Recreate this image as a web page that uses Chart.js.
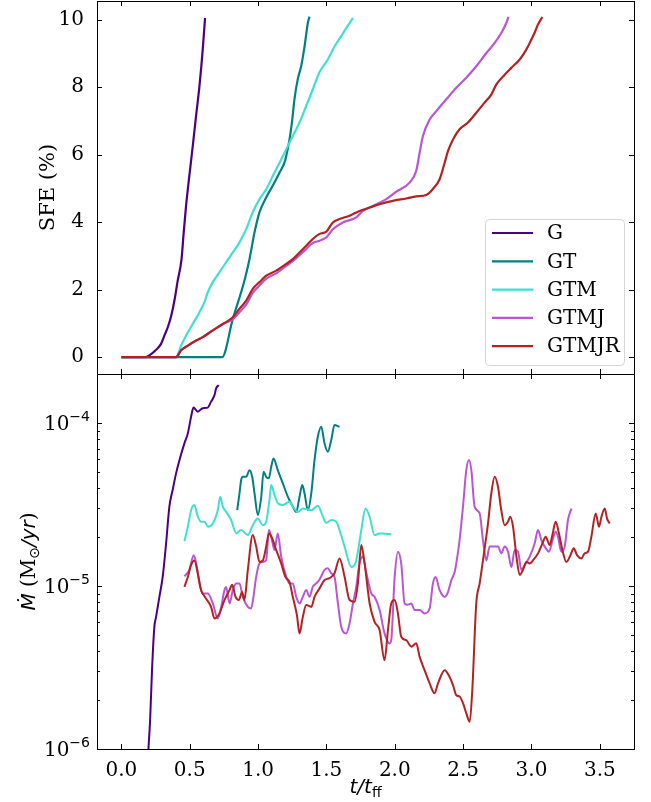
<!DOCTYPE html>
<html>
<head>
<meta charset="utf-8">
<script src="https://cdn.jsdelivr.net/npm/chart.js@4.4.1/dist/chart.umd.min.js"></script>
<style>
  html, body { margin: 0; padding: 0; background: #fff; }
  #wrap { position: relative; width: 651px; height: 802px; }
  #wrap canvas { position: absolute; left: 0; top: 0; }
</style>
</head>
<body>
<div id="wrap">
  <canvas id="sfe" width="651" height="802"></canvas>
  <canvas id="mdot" width="651" height="802"></canvas>
</div>
<script>
// run names and colours
const runs = ['G', 'GT', 'GTM', 'GTMJ', 'GTMJR'];
const colors = ['#4b0082', '#008080', '#40e0d0', '#ba55d3', '#b22222'];

// axis ticks
const xTicks = [0, 0.5, 1, 1.5, 2, 2.5, 3, 3.5];
const sfeTicks = [0, 2, 4, 6, 8, 10];
const mdotTicks = [1e-6, 1e-5, 1e-4];

// star formation efficiency (%) against t/t_ff
const sfeT_G = [0, 0.17, 0.205, 0.25, 0.29, 0.315, 0.34, 0.365, 0.39, 0.41, 0.44, 0.456, 0.473, 0.497, 0.522, 0.546, 0.571, 0.595, 0.612];
const sfe_G = [0, 0, 0.05, 0.2, 0.39, 0.64, 0.89, 1.23, 1.72, 2.22, 2.9, 3.7, 4.48, 5.37, 6.25, 7.14, 8.03, 9.11, 10.05];

const sfeT_GT = [0, 0.737, 0.815, 0.9, 0.937, 0.974, 1.01, 1.059, 1.12, 1.157, 1.193, 1.206, 1.23, 1.25, 1.266, 1.29, 1.315, 1.34, 1.364, 1.376];
const sfe_GT = [0, 0, 1.13, 2.26, 2.9, 3.7, 4.29, 4.73, 5.17, 5.47, 5.76, 5.96, 6.45, 7.04, 7.64, 8.23, 8.62, 9.21, 9.9, 10.09];

const sfeT_GTM = [0, 0.4, 0.437, 0.473, 0.522, 0.571, 0.608, 0.632, 0.669, 0.717, 0.766, 0.815, 0.864, 0.913, 0.961, 1.01, 1.059, 1.108, 1.157, 1.206, 1.254, 1.303, 1.352, 1.4, 1.45, 1.51, 1.56, 1.6, 1.645, 1.694];
const sfe_GTM = [0, 0, 0.34, 0.64, 0.98, 1.33, 1.63, 1.92, 2.22, 2.51, 2.81, 3.1, 3.4, 3.79, 4.29, 4.68, 4.97, 5.37, 5.76, 6.16, 6.55, 6.95, 7.44, 7.93, 8.45, 8.82, 9.21, 9.46, 9.75, 10.05];

const sfeT_GTMJ = [0, 0.4, 0.437, 0.486, 0.547, 0.595, 0.669, 0.742, 0.815, 0.864, 0.913, 0.961, 1.01, 1.059, 1.132, 1.206, 1.254, 1.303, 1.352, 1.4, 1.45, 1.5, 1.547, 1.62, 1.718, 1.767, 1.84, 1.938, 2.011, 2.108, 2.157, 2.182, 2.206, 2.255, 2.304, 2.377, 2.45, 2.523, 2.596, 2.67, 2.731, 2.78, 2.816, 2.831];
const sfe_GTMJ = [0, 0, 0.2, 0.34, 0.49, 0.59, 0.79, 0.98, 1.12, 1.33, 1.55, 1.9, 2.12, 2.32, 2.48, 2.7, 2.84, 3.02, 3.2, 3.38, 3.45, 3.55, 3.79, 3.99, 4.14, 4.33, 4.48, 4.68, 4.9, 5.17, 5.52, 6.06, 6.55, 7.04, 7.29, 7.64, 7.98, 8.28, 8.62, 9.01, 9.31, 9.61, 9.9, 10.08];

const sfeT_GTMJR = [0, 0.4, 0.437, 0.486, 0.547, 0.595, 0.669, 0.742, 0.815, 0.864, 0.913, 0.961, 1.01, 1.059, 1.132, 1.206, 1.254, 1.303, 1.352, 1.4, 1.45, 1.5, 1.547, 1.596, 1.669, 1.742, 1.816, 1.889, 1.986, 2.084, 2.157, 2.23, 2.279, 2.328, 2.365, 2.389, 2.426, 2.474, 2.535, 2.596, 2.657, 2.706, 2.743, 2.804, 2.852, 2.914, 2.962, 2.999, 3.023, 3.048, 3.08];
const sfe_GTMJR = [0, 0, 0.2, 0.34, 0.49, 0.59, 0.79, 0.98, 1.18, 1.43, 1.67, 2.02, 2.22, 2.41, 2.56, 2.76, 2.9, 3.1, 3.3, 3.5, 3.65, 3.72, 3.99, 4.09, 4.19, 4.33, 4.43, 4.53, 4.63, 4.7, 4.76, 4.8, 4.98, 5.27, 5.76, 6.1, 6.45, 6.75, 6.95, 7.24, 7.54, 7.78, 8.08, 8.37, 8.57, 8.82, 9.11, 9.41, 9.61, 9.86, 10.08];

// accretion rate (Msun/yr) against t/t_ff
const mdotT_G = [0.19, 0.198, 0.21, 0.224, 0.241, 0.254, 0.278, 0.302, 0.327, 0.351, 0.375, 0.4, 0.425, 0.461, 0.486, 0.51, 0.527, 0.559, 0.595, 0.632, 0.656, 0.681, 0.693, 0.712];
const mdot_G = [7e-7, 1.0e-6, 1.5e-6, 3.05e-6, 5.6e-6, 6.5e-6, 8.6e-6, 1.14e-5, 1.83e-5, 3.08e-5, 3.9e-5, 4.93e-5, 5.96e-5, 7.54e-5, 8.68e-5, 1.1e-4, 1.25e-4, 1.18e-4, 1.24e-4, 1.25e-4, 1.36e-4, 1.49e-4, 1.64e-4, 1.72e-4];

const mdotT_GT = [0.847, 0.864, 0.876, 0.888, 0.913, 0.937, 0.957, 0.974, 0.998, 1.023, 1.04, 1.059, 1.079, 1.096, 1.113, 1.144, 1.181, 1.218, 1.254, 1.279, 1.303, 1.323, 1.34, 1.364, 1.389, 1.413, 1.437, 1.462, 1.486, 1.51, 1.535, 1.559, 1.596];
const mdot_GT = [2.93e-5, 3.71e-5, 4.49e-5, 4.7e-5, 4.7e-5, 5.16e-5, 4.7e-5, 3.71e-5, 2.74e-5, 3.54e-5, 5.05e-5, 4.7e-5, 4.6e-5, 5.41e-5, 6.09e-5, 5.16e-5, 4.28e-5, 3.54e-5, 3.08e-5, 2.86e-5, 3.54e-5, 4.18e-5, 3.71e-5, 2.93e-5, 3.71e-5, 5.96e-5, 8.28e-5, 9.53e-5, 7.54e-5, 6.7e-5, 7.89e-5, 9.77e-5, 9.53e-5];

const mdotT_GTM = [0.461, 0.486, 0.51, 0.534, 0.559, 0.583, 0.608, 0.632, 0.669, 0.705, 0.723, 0.742, 0.766, 0.803, 0.84, 0.876, 0.925, 0.961, 0.998, 1.035, 1.059, 1.083, 1.096, 1.12, 1.144, 1.181, 1.23, 1.254, 1.291, 1.327, 1.389, 1.437, 1.474, 1.498, 1.535, 1.572, 1.596, 1.633, 1.682, 1.718, 1.755, 1.786, 1.816, 1.852, 1.889, 1.913, 1.975];
const mdot_GTM = [1.89e-5, 2.32e-5, 2.93e-5, 3.15e-5, 2.67e-5, 2.49e-5, 2.49e-5, 2.32e-5, 2.43e-5, 2.93e-5, 3.54e-5, 3.08e-5, 2.86e-5, 2.55e-5, 2.11e-5, 2.21e-5, 2.06e-5, 2.37e-5, 2.6e-5, 2.37e-5, 2.49e-5, 3.38e-5, 4.18e-5, 3.63e-5, 3.23e-5, 3.15e-5, 3.3e-5, 3.08e-5, 2.86e-5, 3.0e-5, 2.93e-5, 3.12e-5, 2.67e-5, 2.45e-5, 2.55e-5, 2.49e-5, 2.21e-5, 1.75e-5, 1.31e-5, 1.44e-5, 2.21e-5, 3.0e-5, 2.67e-5, 2.06e-5, 2.11e-5, 2.11e-5, 2.08e-5];

const mdotT_GTMJ = [0.461, 0.497, 0.529, 0.547, 0.571, 0.595, 0.632, 0.669, 0.705, 0.73, 0.754, 0.766, 0.791, 0.815, 0.84, 0.864, 0.888, 0.925, 0.949, 0.966, 0.986, 1.01, 1.035, 1.059, 1.079, 1.096, 1.12, 1.144, 1.169, 1.206, 1.23, 1.254, 1.279, 1.303, 1.327, 1.352, 1.376, 1.4, 1.425, 1.45, 1.486, 1.51, 1.535, 1.559, 1.584, 1.608, 1.645, 1.669, 1.694, 1.718, 1.742, 1.767, 1.791, 1.828, 1.852, 1.889, 1.925, 1.962, 1.974, 1.999, 2.023, 2.047, 2.072, 2.096, 2.121, 2.145, 2.182, 2.218, 2.255, 2.279, 2.299, 2.328, 2.365, 2.389, 2.414, 2.438, 2.45, 2.474, 2.499, 2.523, 2.543, 2.56, 2.584, 2.621, 2.645, 2.67, 2.694, 2.731, 2.755, 2.779, 2.804, 2.828, 2.853, 2.877, 2.901, 2.926, 2.95, 2.987, 3.023, 3.048, 3.072, 3.097, 3.128, 3.157, 3.177, 3.194, 3.218, 3.243, 3.267, 3.292];
const mdot_GTMJ = [1.15e-5, 1.26e-5, 1.55e-5, 1.38e-5, 1.04e-5, 9.03e-6, 9.03e-6, 7.83e-6, 6.34e-6, 7.46e-6, 9.46e-6, 9.9e-6, 7.83e-6, 9.46e-6, 1.04e-5, 1.04e-5, 8.6e-6, 7.46e-6, 7.3e-6, 8.6e-6, 1.14e-5, 1.38e-5, 1.41e-5, 1.44e-5, 2.21e-5, 2.01e-5, 1.67e-5, 2.11e-5, 1.52e-5, 1.14e-5, 1.04e-5, 1.04e-5, 8.6e-6, 7.83e-6, 8.6e-6, 9.46e-6, 8.6e-6, 9.9e-6, 1.04e-5, 1.1e-5, 1.26e-5, 1.29e-5, 1.2e-5, 1.14e-5, 7.83e-6, 5.64e-6, 5.13e-6, 5.9e-6, 7.83e-6, 9.9e-6, 1.38e-5, 1.52e-5, 1.22e-5, 9.03e-6, 8.6e-6, 7.13e-6, 5.13e-6, 4.45e-6, 4.66e-6, 1.14e-5, 1.63e-5, 1.38e-5, 7.83e-6, 7.7e-6, 7.83e-6, 7.13e-6, 7.13e-6, 6.8e-6, 7.3e-6, 1.04e-5, 1.14e-5, 9.46e-6, 8.6e-6, 9.2e-6, 1.09e-5, 1.22e-5, 1.38e-5, 1.92e-5, 3.08e-5, 5.16e-5, 5.96e-5, 5.16e-5, 3.08e-5, 2.8e-5, 1.92e-5, 1.44e-5, 1.75e-5, 1.75e-5, 1.75e-5, 1.59e-5, 1.75e-5, 1.63e-5, 1.31e-5, 1.67e-5, 1.63e-5, 1.26e-5, 1.35e-5, 1.52e-5, 1.83e-5, 2.21e-5, 1.92e-5, 1.75e-5, 1.63e-5, 1.96e-5, 2.16e-5, 2.01e-5, 1.63e-5, 1.75e-5, 2.55e-5, 3.0e-5];

const mdotT_GTMJR = [0.461, 0.486, 0.51, 0.534, 0.559, 0.583, 0.61, 0.656, 0.681, 0.717, 0.754, 0.791, 0.81, 0.835, 0.859, 0.883, 0.9, 0.925, 0.961, 0.986, 1.01, 1.035, 1.059, 1.079, 1.103, 1.132, 1.169, 1.2, 1.23, 1.254, 1.284, 1.303, 1.327, 1.352, 1.389, 1.413, 1.45, 1.486, 1.523, 1.559, 1.596, 1.633, 1.669, 1.706, 1.73, 1.755, 1.779, 1.816, 1.852, 1.889, 1.925, 1.95, 1.974, 1.999, 2.023, 2.047, 2.084, 2.121, 2.157, 2.182, 2.218, 2.255, 2.291, 2.316, 2.365, 2.401, 2.426, 2.45, 2.474, 2.499, 2.523, 2.548, 2.567, 2.596, 2.621, 2.645, 2.682, 2.706, 2.731, 2.755, 2.779, 2.804, 2.828, 2.845, 2.865, 2.89, 2.914, 2.938, 2.963, 2.987, 3.011, 3.048, 3.08, 3.104, 3.133, 3.153, 3.177, 3.201, 3.226, 3.255, 3.285, 3.309, 3.333, 3.365, 3.389, 3.414, 3.438, 3.47, 3.494, 3.512, 3.536, 3.553, 3.572];
const mdot_GTMJR = [9.9e-6, 1.14e-5, 1.35e-5, 1.44e-5, 1.2e-5, 9.46e-6, 8.6e-6, 7.46e-6, 6.34e-6, 6.8e-6, 8.22e-6, 9.46e-6, 1.02e-5, 8.6e-6, 8.22e-6, 9.2e-6, 8.22e-6, 1.26e-5, 2.06e-5, 1.75e-5, 1.41e-5, 1.44e-5, 1.75e-5, 2.11e-5, 1.97e-5, 1.67e-5, 1.38e-5, 1.14e-5, 1.06e-5, 8.6e-6, 6.64e-6, 5.13e-6, 6.47e-6, 7.66e-6, 7.46e-6, 8.6e-6, 9.7e-6, 1.09e-5, 1.12e-5, 1.2e-5, 1.48e-5, 1.14e-5, 8.22e-6, 8.02e-6, 1.04e-5, 1.79e-5, 1.38e-5, 7.83e-6, 6.04e-6, 5.37e-6, 3.51e-6, 5.37e-6, 7.83e-6, 8.22e-6, 6.8e-6, 4.89e-6, 4.66e-6, 4.25e-6, 4.46e-6, 3.68e-6, 3.05e-6, 2.53e-6, 2.2e-6, 2.53e-6, 3.05e-6, 2.77e-6, 2.47e-6, 2.14e-6, 2.1e-6, 1.91e-6, 1.66e-6, 1.47e-6, 2.3e-6, 7.83e-6, 1.04e-5, 1.44e-5, 2.43e-5, 3.71e-5, 4.7e-5, 4.08e-5, 2.93e-5, 2.37e-5, 2.49e-5, 2.67e-5, 2.32e-5, 1.52e-5, 1.17e-5, 1.26e-5, 1.41e-5, 1.38e-5, 1.44e-5, 1.59e-5, 1.83e-5, 2.01e-5, 1.79e-5, 2.06e-5, 2.49e-5, 2.11e-5, 1.67e-5, 1.41e-5, 1.55e-5, 1.71e-5, 1.55e-5, 1.48e-5, 1.59e-5, 1.63e-5, 2.01e-5, 2.8e-5, 2.32e-5, 2.67e-5, 3.0e-5, 2.6e-5, 2.43e-5];

const sfeSeries = [[sfeT_G, sfe_G], [sfeT_GT, sfe_GT], [sfeT_GTM, sfe_GTM], [sfeT_GTMJ, sfe_GTMJ], [sfeT_GTMJR, sfe_GTMJR]];
const mdotSeries = [[mdotT_G, mdot_G], [mdotT_GT, mdot_GT], [mdotT_GTM, mdot_GTM], [mdotT_GTMJ, mdot_GTMJ], [mdotT_GTMJR, mdot_GTMJR]];

const X_MIN = -0.1785, X_MAX = 3.75;
const SERIF = '"DejaVu Serif", serif';
const SANS = '"DejaVu Sans", sans-serif';

Chart.defaults.font.family = SERIF;
Chart.defaults.color = '#000';

function makeDatasets(series, width) {
  return series.map(([t, v], i) => ({
    label: runs[i],
    data: t.map((x, k) => ({ x: x, y: v[k] })),
    borderColor: colors[i],
    backgroundColor: colors[i],
    borderWidth: width,
    pointRadius: 0,
    cubicInterpolationMode: 'monotone',
    order: runs.length - i   // later runs drawn on top
  }));
}

// keep the plot box exactly where the axes say, no room kept for edge labels
function noEdgePadding(s) {
  s.paddingTop = 0; s.paddingBottom = 0; s.paddingLeft = 0; s.paddingRight = 0;
}

// box, inward ticks on every side
const frameTicks = {
  id: 'frameTicks',
  afterDatasetsDraw(chart, args, opts) {
    const { ctx, chartArea: a, scales } = chart;
    const xs = scales.x, ys = scales.y;
    ctx.save();
    ctx.strokeStyle = '#000';
    ctx.lineWidth = 1;
    ctx.beginPath();
    xTicks.forEach(v => {
      const px = Math.round(xs.getPixelForValue(v)) + 0.5;
      ctx.moveTo(px, a.bottom); ctx.lineTo(px, a.bottom - 5);
      ctx.moveTo(px, a.top); ctx.lineTo(px, a.top + 5);
    });
    const yTick = (v, len) => {
      const py = Math.round(ys.getPixelForValue(v)) + 0.5;
      if (py < a.top || py > a.bottom + 1) return;
      ctx.moveTo(a.left, py); ctx.lineTo(a.left + len, py);
      ctx.moveTo(a.right, py); ctx.lineTo(a.right - len, py);
    };
    opts.major.forEach(v => yTick(v, 5));
    (opts.minor || []).forEach(v => yTick(v, 3));
    ctx.stroke();
    ctx.strokeRect(a.left + 0.5, a.top + 0.5, a.right - a.left, a.bottom - a.top);
    ctx.restore();
  }
};

// legend box in the lower right of the SFE panel
const sfeLegend = {
  id: 'sfeLegend',
  afterDraw(chart) {
    const ctx = chart.ctx;
    const bx = 485, by = 219, bw = 139, bh = 146, r = 4;
    ctx.save();
    ctx.fillStyle = 'rgba(255,255,255,0.8)';
    ctx.strokeStyle = '#d5d5d5';
    ctx.lineWidth = 1;
    ctx.beginPath();
    ctx.roundRect(bx + 0.5, by + 0.5, bw, bh, r);
    ctx.fill();
    ctx.stroke();
    ctx.font = '20px ' + SERIF;
    ctx.textBaseline = 'middle';
    ctx.fillStyle = '#000';
    chart.data.datasets.forEach((ds, i) => {
      const y = by + 14 + i * 28.3;
      ctx.strokeStyle = ds.borderColor;
      ctx.lineWidth = 2.2;
      ctx.beginPath();
      ctx.moveTo(492, y); ctx.lineTo(533, y);
      ctx.stroke();
      ctx.fillText(ds.label, 547, y + 1);
    });
    ctx.restore();
  }
};

// draw a label made of several font runs, centred on (cx, cy)
function drawRuns(ctx, parts, cx, cy, vertical, align) {
  ctx.save();
  ctx.translate(cx, cy);
  if (vertical) ctx.rotate(-Math.PI / 2);
  let total = 0;
  parts.forEach(p => { ctx.font = p.font; p.w = ctx.measureText(p.text).width; total += p.w; });
  let pos = align === 'right' ? -total : -total / 2;
  ctx.fillStyle = '#000';
  ctx.textBaseline = 'alphabetic';
  parts.forEach(p => { ctx.font = p.font; ctx.fillText(p.text, pos, 7 + (p.dy || 0)); pos += p.w; });
  ctx.restore();
}

// axis titles and power-of-ten tick labels of the accretion panel
const mdotText = {
  id: 'mdotText',
  afterDraw(chart) {
    const ctx = chart.ctx;
    const a = chart.chartArea;
    const ys = chart.scales.y;
    mdotTicks.forEach(v => {
      const e = Math.round(Math.log10(v));
      drawRuns(ctx, [
        { text: '10', font: '20px ' + SERIF },
        { text: '\u2212' + Math.abs(e), font: '14px ' + SANS, dy: -9 }
      ], 90, ys.getPixelForValue(v), false, 'right');
    });
    drawRuns(ctx, [
      { text: 't/t', font: 'italic 20px ' + SANS },
      { text: 'ff', font: '14px ' + SANS, dy: 4 }
    ], (a.left + a.right) / 2, 786, false);
    drawRuns(ctx, [
      { text: '\u1E40', font: 'italic 20px ' + SANS },
      { text: ' (M', font: '20px ' + SERIF },
      { text: '\u2299', font: '14px ' + SANS, dy: 4 },
      { text: '/yr', font: 'italic 20px ' + SANS },
      { text: ')', font: '20px ' + SERIF }
    ], 28, (a.top + a.bottom) / 2, true);
  }
};

// log minor ticks 2..9 x 10^n
const minorLog = [];
[-6, -5, -4].forEach(e => { for (let m = 2; m <= 9; m++) minorLog.push(m * Math.pow(10, e)); });

const common = {
  responsive: false,
  animation: false,
  devicePixelRatio: 1,
  events: [],
  plugins: { legend: { display: false }, tooltip: { enabled: false } }
};

new Chart(document.getElementById('sfe'), {
  type: 'line',
  data: { datasets: makeDatasets(sfeSeries, 2.2) },
  options: Object.assign({}, common, {
    layout: { padding: { left: 0, right: 17, top: 1, bottom: 0 } },
    plugins: Object.assign({}, common.plugins, { frameTicks: { major: sfeTicks } }),
    scales: {
      x: {
        type: 'linear', min: X_MIN, max: X_MAX,
        grid: { display: false }, border: { display: false },
        ticks: { display: false },
        afterBuildTicks: s => { s.ticks = xTicks.map(v => ({ value: v })); },
        afterFit: s => { s.height = 428; noEdgePadding(s); }
      },
      y: {
        type: 'linear', min: -0.5025, max: 10.5525,
        grid: { display: false }, border: { display: false },
        ticks: { font: { size: 20 }, padding: 5, callback: v => String(v) },
        afterBuildTicks: s => { s.ticks = sfeTicks.map(v => ({ value: v })); },
        afterFit: s => { s.width = 97; noEdgePadding(s); },
        title: { display: true, text: 'SFE (%)', font: { size: 21 }, padding: { top: 36, bottom: 0 } }
      }
    }
  }),
  plugins: [frameTicks, sfeLegend]
});

new Chart(document.getElementById('mdot'), {
  type: 'line',
  data: { datasets: makeDatasets(mdotSeries, 2) },
  options: Object.assign({}, common, {
    layout: { padding: { left: 0, right: 17, top: 374, bottom: 0 } },
    plugins: Object.assign({}, common.plugins, { frameTicks: { major: mdotTicks, minor: minorLog } }),
    scales: {
      x: {
        type: 'linear', min: X_MIN, max: X_MAX,
        grid: { display: false }, border: { display: false },
        ticks: { font: { size: 20 }, padding: 2, maxRotation: 0, callback: v => v.toFixed(1) },
        afterBuildTicks: s => { s.ticks = xTicks.map(v => ({ value: v })); },
        afterFit: s => { s.height = 53; noEdgePadding(s); }
      },
      y: {
        type: 'logarithmic', min: 1e-6, max: 2.01e-4,
        grid: { display: false }, border: { display: false },
        ticks: { display: false },
        afterBuildTicks: s => { s.ticks = mdotTicks.map(v => ({ value: v })); },
        afterFit: s => { s.width = 97; noEdgePadding(s); }
      }
    }
  }),
  plugins: [frameTicks, mdotText]
});
</script>
</body>
</html>
